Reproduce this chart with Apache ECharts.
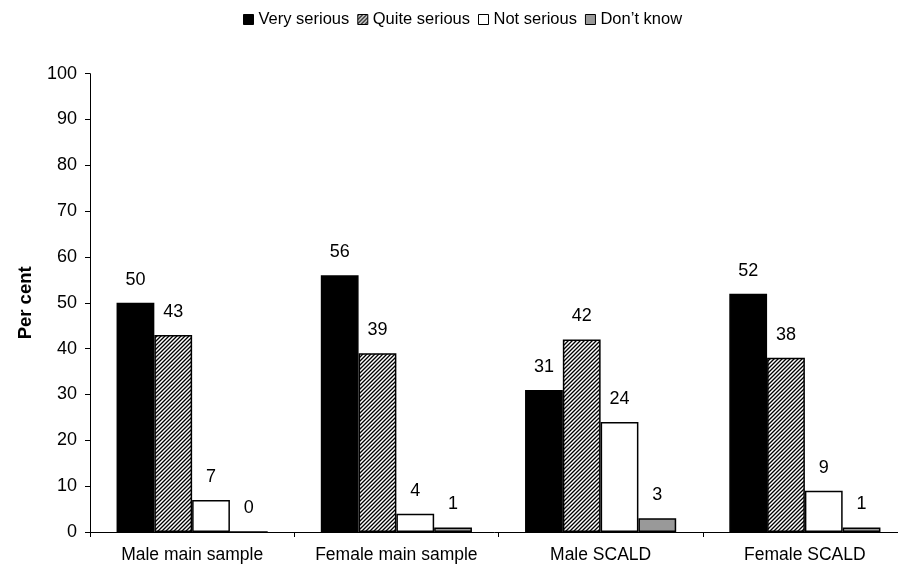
<!DOCTYPE html>
<html>
<head>
<meta charset="utf-8">
<script src="https://cdn.jsdelivr.net/npm/echarts@6/dist/echarts.min.js"></script>
<style>
html,body{margin:0;padding:0;background:#fff;}
#chart{width:898px;height:572px;}
</style>
</head>
<body>
<div id="chart"></div>
<script>
const categories = ['Male main sample', 'Female main sample', 'Male SCALD', 'Female SCALD'];
const seriesNames = ['Very serious', 'Quite serious', 'Not serious', 'Don\u2019t know'];
const verySerious = [50, 56, 31, 52];
const quiteSerious = [43, 39, 42, 38];
const notSerious = [7, 4, 24, 9];
const dontKnow = [0, 1, 3, 1];
const yTicks = [0, 10, 20, 30, 40, 50, 60, 70, 80, 90, 100];

function hatch() {
  const c = document.createElement('canvas');
  c.width = 4; c.height = 4;
  const ctx = c.getContext('2d');
  const tones = ['#000000', '#8a8a8a', '#ffffff', '#8a8a8a'];
  for (let x = 0; x < 4; x++) {
    for (let y = 0; y < 4; y++) {
      ctx.fillStyle = tones[(x + y) % 4];
      ctx.fillRect(x, y, 1, 1);
    }
  }
  return c;
}
const hatchPattern = { image: hatch(), repeat: 'repeat' };

const fills = ['#000000', hatchPattern, '#ffffff', '#999999'];
const dataSets = [verySerious, quiteSerious, notSerious, dontKnow];
const FONT = 'Liberation Sans, Arial, sans-serif';

const chart = echarts.init(document.getElementById('chart'), null, { renderer: 'canvas' });
chart.setOption({
  animation: false,
  backgroundColor: '#fff',
  textStyle: { fontFamily: FONT },
  legend: {
    top: 6,
    left: 238,
    itemWidth: 10,
    itemHeight: 10,
    itemGap: 8,
    textStyle: { fontSize: 16.5, color: '#000', fontFamily: FONT },
    data: seriesNames.map((n, i) => ({
      name: n,
      icon: 'rect',
      itemStyle: { color: fills[i], borderColor: '#000', borderWidth: 1 }
    }))
  },
  grid: { left: 90, width: 817, top: 73.7, bottom: 40, containLabel: false, outerBoundsMode: 'none' },
  xAxis: {
    type: 'category',
    data: categories,
    axisLine: { lineStyle: { color: '#000', width: 1 } },
    axisTick: { show: true, length: 5, lineStyle: { color: '#000' } },
    axisLabel: { color: '#000', fontSize: 17.5, margin: 14, interval: 0, fontFamily: FONT }
  },
  yAxis: {
    type: 'value',
    min: yTicks[0],
    max: yTicks[yTicks.length - 1],
    interval: yTicks[1] - yTicks[0],
    name: 'Per cent',
    nameLocation: 'middle',
    nameGap: 55,
    nameRotate: 90,
    nameTextStyle: { fontSize: 18.5, fontWeight: 'bold', color: '#000', fontFamily: FONT },
    splitLine: { show: false },
    axisLine: { show: true, lineStyle: { color: '#000', width: 1 } },
    axisTick: { show: true, length: 5, lineStyle: { color: '#000' } },
    axisLabel: { color: '#000', fontSize: 18, margin: 13, fontFamily: FONT }
  },
  series: seriesNames.map((n, i) => ({
    name: n,
    type: 'bar',
    data: dataSets[i],
    barGap: '0%',
    barCategoryGap: '26%',
    itemStyle: { color: fills[i], borderColor: '#000', borderWidth: 1.5 },
    label: {
      show: true,
      position: 'top',
      distance: 14,
      color: '#000',
      fontSize: 18,
      fontFamily: FONT
    }
  }))
});
</script>
</body>
</html>
